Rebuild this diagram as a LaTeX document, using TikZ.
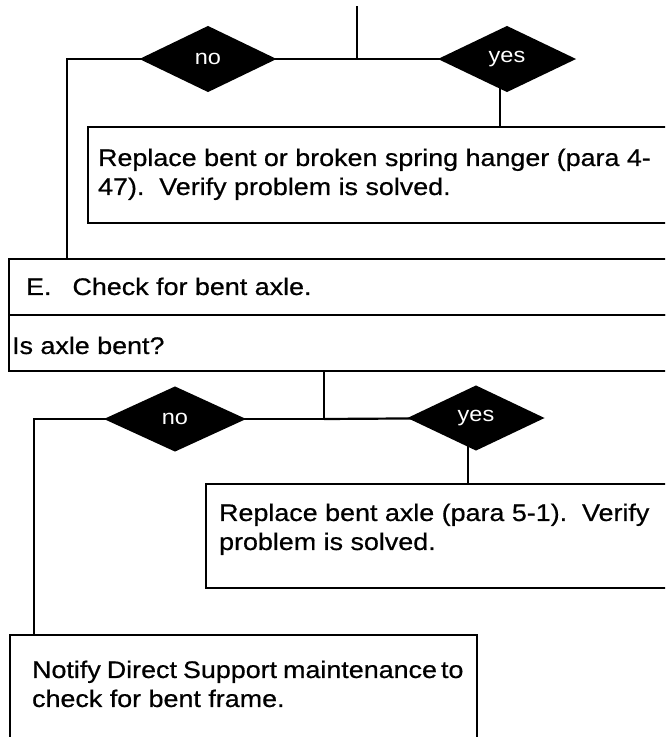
\documentclass[tikz,border=0pt]{standalone}
\usepackage{fontspec}
\setmainfont{Liberation Sans}[FakeStretch=1.12,FakeBold=0.6]
\newfontfamily\diafont{Liberation Sans}[FakeStretch=1.12]
\usetikzlibrary{shapes.geometric,backgrounds,calc}
% width, height, left pad, top pad, line 1, line 2
\newcommand{\bxt}[6]{\parbox[t][#2][t]{#1}{\fontsize{24pt}{29pt}\selectfont
  \vspace*{#4}\moveright#3\hbox to \dimexpr#1-#3\relax{#5\hfil}%
  \moveright#3\hbox to \dimexpr#1-#3\relax{#6\hfil}\vfill}}
\begin{document}
\begin{tikzpicture}[x=1pt,y=-1pt,line width=2.2pt,
  dia/.style={diamond,fill=black,draw=none,inner sep=0pt,text=white,
    font=\diafont\fontsize{21pt}{22pt}\selectfont},
  boxnode/.style={draw,rectangle,inner sep=0pt,anchor=north west,line width=2.2pt},
  wire/.style={line width=2.2pt}]
\useasboundingbox (0,0) rectangle (665,737);
\clip (0,0) rectangle (665,737);
% upper decision
\coordinate (top) at (357,6);
\coordinate (j1) at (357,59);
\coordinate (c1) at (67,59);
\coordinate (y1x) at (500,59);
\node[dia,minimum width=138pt,minimum height=67pt] (no1) at (208,59) {no};
\node[dia,minimum width=139pt,minimum height=67pt] (yes1) at (507,59) {yes};
\node[boxnode] (b1) at (87,126) {\bxt{593pt}{96pt}{10pt}{21.5pt}{Replace bent or broken spring hanger (para 4-}{47).\ \ Verify problem is solved.}};
% check E
\node[boxnode] (bE) at (8,258) {\bxt{672pt}{56pt}{17pt}{18.5pt}{E.\hspace{21pt}Check for bent axle.}{}};
\node[boxnode] (bIs) at (8,314) {\bxt{672pt}{56pt}{3pt}{21.5pt}{Is axle bent?}{}};
% lower decision
\coordinate (j2) at (324,419);
\coordinate (c2) at (34,419);
\coordinate (y2x) at (468,419);
\node[dia,minimum width=143pt,minimum height=66pt] (no2) at (175,419) {no};
\node[dia,minimum width=138pt,minimum height=66pt] (yes2) at (476,418) {yes};
\node[boxnode] (b2) at (205,483) {\bxt{475pt}{104pt}{13pt}{19.5pt}{Replace bent axle (para 5-1).\ \ Verify}{problem is solved.}};
\node[boxnode] (bN) at (9,634) {\bxt{467pt}{103pt}{22pt}{25.5pt}{Notify\hspace{6pt}Direct\hspace{6pt}Support\hspace{6pt}maintenance\hspace{4pt}to}{check for bent frame.}};
\begin{pgfonlayer}{background}
\draw[wire] (top) -- (j1);
\draw[wire] (j1) -- (no1.center);
\draw[wire] (j1) -- (yes1.center);
\draw[wire] (no1.center) -- (c1) -- (c1 |- bE.north);
\draw[wire] (y1x) -- (y1x |- b1.north);
\draw[wire] (j2 |- bIs.south) -- (j2);
\draw[wire] (j2) -- (no2.center);
\draw[wire] (j2) -- (yes2.center);
\draw[wire] (no2.center) -- (c2) -- (c2 |- bN.north);
\draw[wire] (y2x) -- (y2x |- b2.north);
\end{pgfonlayer}
\end{tikzpicture}
\end{document}
